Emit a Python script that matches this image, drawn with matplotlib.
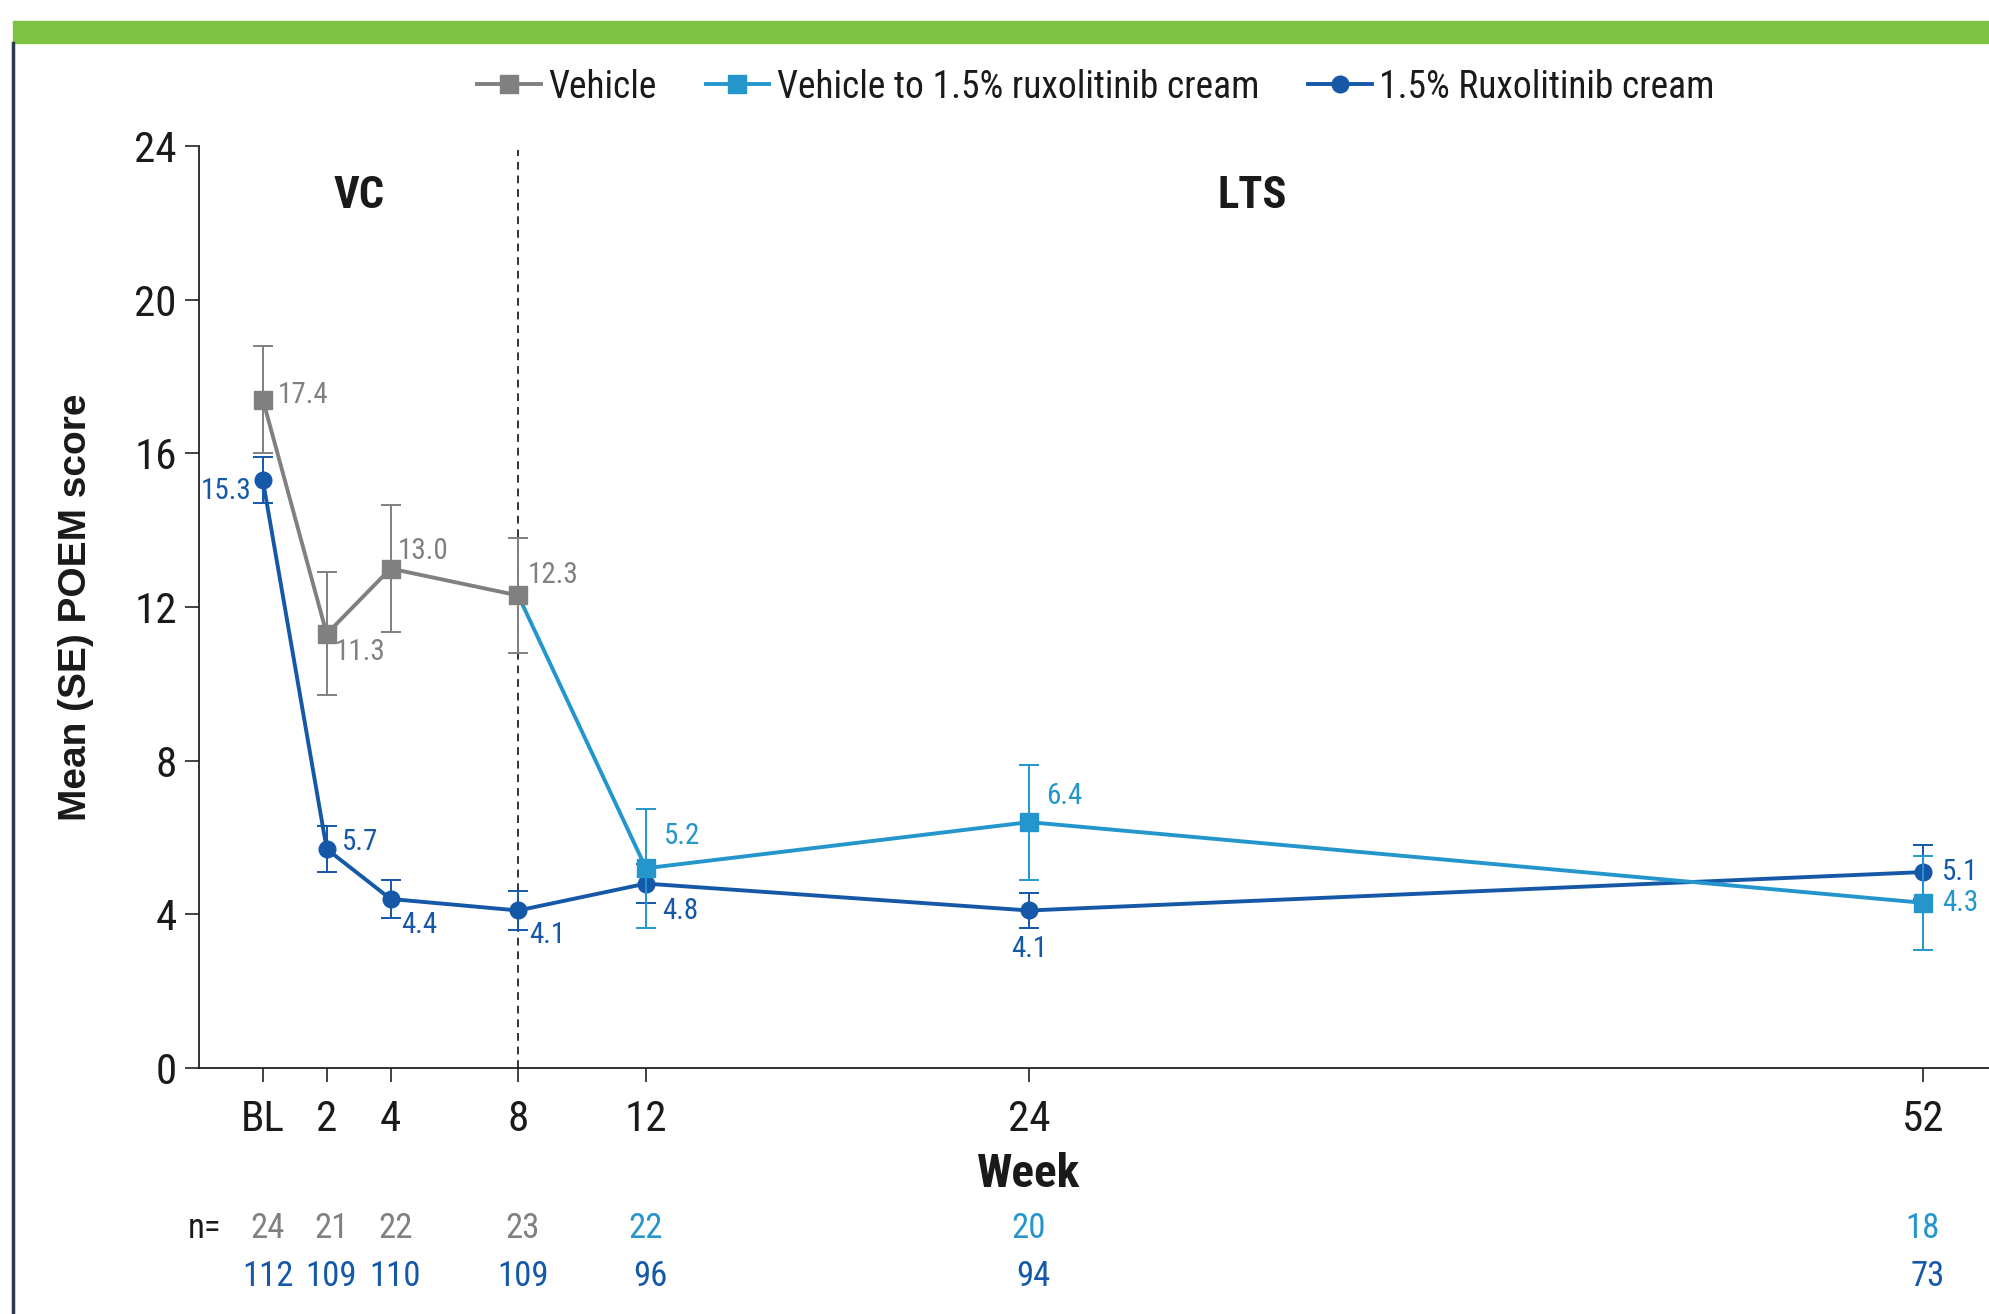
import matplotlib
matplotlib.use("Agg")
import matplotlib.pyplot as plt
from matplotlib.lines import Line2D
from matplotlib.patches import Rectangle

plt.rcParams['font.family'] = ['Roboto Condensed', 'Archivo Narrow', 'PT Sans Narrow',
                               'Liberation Sans', 'DejaVu Sans']

# ---- data ----
week_ticks = [0, 2, 4, 8, 12, 24, 52]
week_labels = ['BL', '2', '4', '8', '12', '24', '52']

veh_weeks = [0, 2, 4, 8]
veh_mean = [17.4, 11.3, 13.0, 12.3]
veh_se = [1.4, 1.6, 1.65, 1.5]
veh_n = [24, 21, 22, 23]

sw_weeks = [8, 12, 24, 52]
sw_mean = [12.3, 5.2, 6.4, 4.3]
sw_se = [0.0, 1.55, 1.5, 1.23]
sw_n_weeks = [12, 24, 52]
sw_n = [22, 20, 18]

rux_weeks = [0, 2, 4, 8, 12, 24, 52]
rux_mean = [15.3, 5.7, 4.4, 4.1, 4.8, 4.1, 5.1]
rux_se = [0.6, 0.6, 0.5, 0.5, 0.5, 0.45, 0.7]
rux_n = [112, 109, 110, 109, 96, 94, 73]

GRAY = '#808080'
CYAN = '#2496cc'
NAVY = '#1558a8'
GREEN = '#7dc242'
INK = '#1a1a1a'

W, H = 1989, 1314
fig = plt.figure(figsize=(W / 100, H / 100), dpi=100)

# header band and side rule
fig.patches.append(Rectangle((13 / W, 1 - 43 / H), 1 - 13 / W, 22 / H,
                             transform=fig.transFigure, color=GREEN, zorder=0))
fig.lines.append(Line2D([13 / W, 13 / W], [0, 1 - 43 / H], transform=fig.transFigure,
                        color='#2b3a4c', lw=2.5))

ax = fig.add_axes([199 / W, 1 - 1068 / H, 1 - 199 / W, (1068 - 146) / H])
ax.set_xlim(-2, 54.07)
ax.set_ylim(0, 24)
for s in ['top', 'right']:
    ax.spines[s].set_visible(False)
for s in ['left', 'bottom']:
    ax.spines[s].set_color('#222222')
    ax.spines[s].set_linewidth(1.3)

ax.set_yticks([0, 4, 8, 12, 16, 20, 24])
ax.set_xticks(week_ticks)
ax.set_xticklabels(week_labels)
ax.tick_params(axis='both', direction='out', length=10, width=1.2, color='#222222',
               labelsize=31, labelcolor=INK)
ax.tick_params(axis='x', pad=12)
ax.tick_params(axis='y', pad=6)

ax.set_ylabel('Mean (SE) POEM score', fontsize=28, fontweight='bold', color=INK,
              va='center', family=['Liberation Sans', 'DejaVu Sans'])
ax.yaxis.set_label_coords(-0.0687, 0.5)

# period divider
ax.plot([8, 8], [0, 23.9], ls=(0, (4, 3)), color='#333333', lw=1.4, zorder=1)
ax.text(3.0, 22.7, 'VC', fontsize=32, fontweight='bold', ha='center', va='center',
        color=INK)
ax.text(31.0, 22.7, 'LTS', fontsize=32, fontweight='bold', ha='center', va='center',
        color=INK)

eb_kw = dict(elinewidth=1.4, capsize=7, capthick=1.4)

ax.errorbar(rux_weeks, rux_mean, yerr=rux_se, color=NAVY, lw=2.8, marker='o',
            ms=12, zorder=3, **eb_kw)
ax.errorbar(sw_weeks[1:], sw_mean[1:], yerr=sw_se[1:], color=CYAN, lw=0, marker='None',
            zorder=4, **eb_kw)
ax.plot(sw_weeks, sw_mean, color=CYAN, lw=2.8, zorder=4)
ax.plot(sw_weeks[1:], sw_mean[1:], color=CYAN, lw=0, marker='s', ms=13, zorder=4.5)
ax.errorbar(veh_weeks, veh_mean, yerr=veh_se, color=GRAY, lw=2.8, marker='s', ms=13,
            zorder=5, **eb_kw)

# value labels (offsets in points)
veh_off = [(11, 3, 'left'), (6, -13, 'left'), (5, 13, 'left'), (7, 15, 'left')]
rux_off = [(-8, -8, 'right'), (11, 5, 'left'), (8, -19, 'left'), (8, -18, 'left'),
           (12, -20, 'left'), (0, -28, 'center'), (14, 0, 'left')]
sw_off = [(13, 23, 'left'), (12, 19, 'left'), (14, 0, 'left')]


def label(xs, ys, offs, color):
    for x, y, (dx, dy, ha) in zip(xs, ys, offs):
        ax.annotate(f'{y:.1f}', (x, y), xytext=(dx, dy), textcoords='offset points',
                    ha=ha, va='center', fontsize=21, color=color, zorder=6)


label(veh_weeks, veh_mean, veh_off, GRAY)
label(rux_weeks, rux_mean, rux_off, NAVY)
label(sw_weeks[1:], sw_mean[1:], sw_off, CYAN)


def fig_x(week):
    return ax.transData.transform((week, 0))[0] / W


# axis title and number-at-risk rows
fig.text(fig_x(24), 1 - 1174 / H, 'Week', fontsize=34, fontweight='bold',
         ha='center', va='center', color=INK)

row1_y = 1 - 1229 / H
row2_y = 1 - 1276 / H
fig.text(fig_x(-1.3), row1_y, 'n=', fontsize=25, ha='right', va='center', color=INK)
for w, n in zip(veh_weeks, veh_n):
    fig.text(fig_x(w + 0.15), row1_y, str(n), fontsize=25, ha='center', va='center', color=GRAY)
for w, n in zip(sw_n_weeks, sw_n):
    fig.text(fig_x(w), row1_y, str(n), fontsize=25, ha='center', va='center', color=CYAN)
for w, n in zip(rux_weeks, rux_n):
    fig.text(fig_x(w + 0.15), row2_y, str(n), fontsize=25, ha='center', va='center', color=NAVY)

handles = [
    Line2D([], [], color=GRAY, lw=2.8, marker='s', ms=13),
    Line2D([], [], color=CYAN, lw=2.8, marker='s', ms=13),
    Line2D([], [], color=NAVY, lw=2.8, marker='o', ms=12),
]
fig.legend(handles, ['Vehicle', 'Vehicle to 1.5% ruxolitinib cream', '1.5% Ruxolitinib cream'],
           loc='center', bbox_to_anchor=(0.551, 1 - 87 / H), ncol=3, frameon=False,
           fontsize=27, handlelength=1.7, handletextpad=0.2, columnspacing=1.3,
           labelcolor=INK)

fig.savefig('out.png', dpi=100)
